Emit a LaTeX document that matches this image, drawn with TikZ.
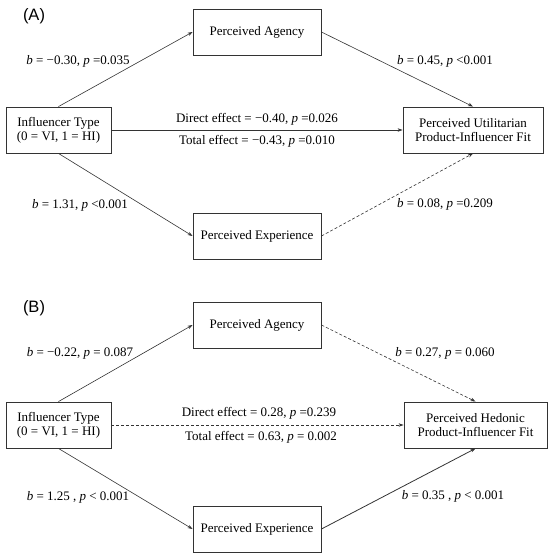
\documentclass[tikz,border=0pt]{standalone}
\usepackage{fontspec}
\setmainfont{Liberation Serif}
\newfontfamily\arialfont{Liberation Sans}
\usetikzlibrary{arrows.meta}
\tikzset{
  boxnode/.style={draw=black!80, line width=0.9pt, inner sep=0pt, align=center,
    font=\fontsize{13}{14}\selectfont, minimum height=46pt},
  lbl/.style={inner sep=0pt, font=\fontsize{13}{14}\selectfont},
  panel/.style={inner sep=0pt, font=\arialfont\fontsize{16.5}{18}\selectfont},
  conn/.style={draw=black!80, line width=0.6pt, -{Stealth[length=5pt,width=3.5pt]}},
  dconn/.style={conn, dashed, dash pattern=on 3pt off 2pt}
}
\begin{document}
\begin{tikzpicture}[x=1pt,y=-1pt]
\useasboundingbox (0,0) rectangle (550,556);
% Panel A
\node[panel] (labA) at (34,16) {(A)};
\node[boxnode, minimum width=128pt] (agA) at (257,32) {Perceived Agency};
\node[boxnode, minimum width=105pt] (itA) at (58.5,130) {Influencer Type\\(0 = VI, 1 = HI)};
\node[boxnode, minimum width=140pt] (utA) at (473,130) {Perceived Utilitarian\\Product-Influencer Fit};
\node[boxnode, minimum width=128pt] (exA) at (257,236) {Perceived Experience};
\draw[conn] (itA.north) -- (agA.west);
\draw[conn] (itA.south) -- (exA.west);
\draw[conn] (itA.east) -- (utA.west);
\draw[conn] (agA.east) -- (utA.north);
\draw[dconn] (exA.east) -- (utA.south);
\node[lbl] (la1) at (78,61) {\textit{b} = −0.30, \textit{p} =0.035};
\node[lbl] (la2) at (80,205) {\textit{b} = 1.31, \textit{p} <0.001};
\node[lbl] (la3) at (257,119) {Direct effect = −0.40, \textit{p} =0.026};
\node[lbl] (la4) at (257,141) {Total effect = −0.43, \textit{p} =0.010};
\node[lbl] (la5) at (445,61) {\textit{b} = 0.45, \textit{p} <0.001};
\node[lbl] (la6) at (445,204) {\textit{b} = 0.08, \textit{p} =0.209};
% Panel B
\node[panel] (labB) at (34,308) {(B)};
\node[boxnode, minimum width=128pt] (agB) at (257,325) {Perceived Agency};
\node[boxnode, minimum width=105pt] (itB) at (58.5,425) {Influencer Type\\(0 = VI, 1 = HI)};
\node[boxnode, minimum width=143pt] (hdB) at (475.5,425) {Perceived Hedonic\\Product-Influencer Fit};
\node[boxnode, minimum width=128pt] (exB) at (257,529) {Perceived Experience};
\draw[conn] (itB.north) -- (agB.west);
\draw[conn] (itB.south) -- (exB.west);
\draw[dconn] (itB.east) -- (hdB.west);
\draw[dconn] (agB.east) -- (hdB.north);
\draw[conn, line width=0.8pt] (exB.east) -- (hdB.south);
\node[lbl] (lb1) at (80,353) {\textit{b} = −0.22, \textit{p} = 0.087};
\node[lbl] (lb2) at (78,497) {\textit{b} = 1.25 , \textit{p} < 0.001};
\node[lbl] (lb3) at (259,413) {Direct effect = 0.28, \textit{p} =0.239};
\node[lbl] (lb4) at (261,437) {Total effect = 0.63, \textit{p} = 0.002};
\node[lbl] (lb5) at (445,353) {\textit{b} = 0.27, \textit{p} = 0.060};
\node[lbl] (lb6) at (453,496) {\textit{b} = 0.35 , \textit{p} < 0.001};
\end{tikzpicture}
\end{document}
